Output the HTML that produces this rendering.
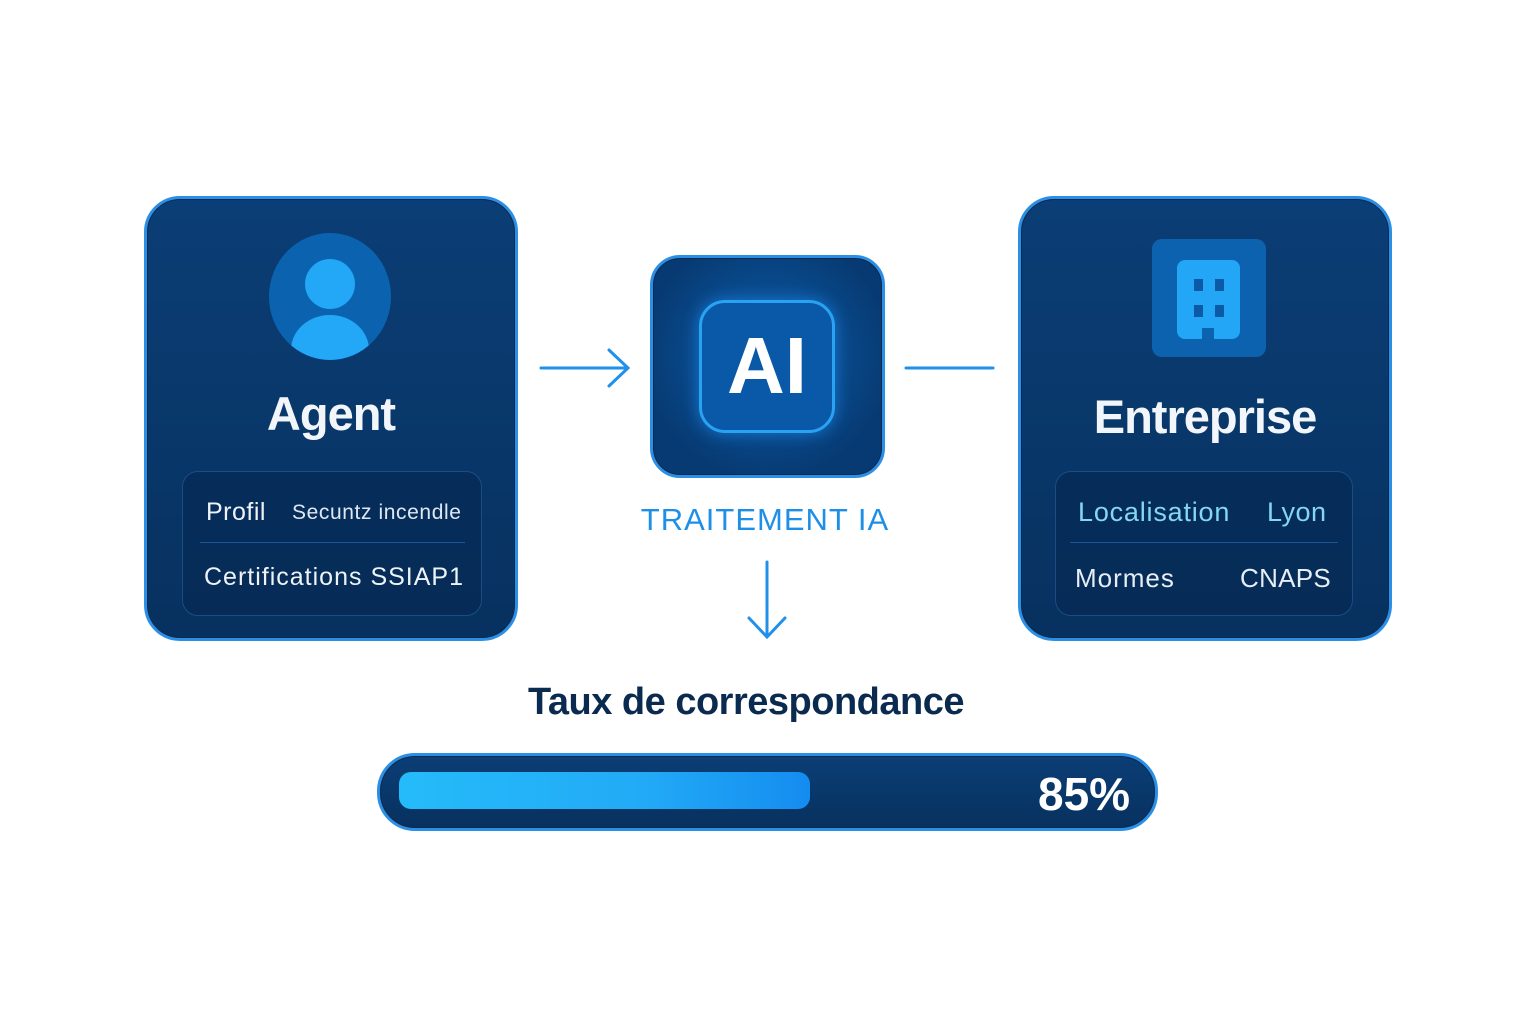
<!DOCTYPE html>
<html><head><meta charset="utf-8"><style>
body{margin:0;width:1536px;height:1024px;background:#fff;position:relative;overflow:hidden;font-family:"Liberation Sans","DejaVu Sans",sans-serif}
.a{position:absolute;box-sizing:border-box}
.card{border:3px solid #2b8fe6;border-radius:36px;background:linear-gradient(180deg,#0b3e76,#07315f);box-shadow:inset 0 0 0 1px #0a2a50}
.inner{border:1.5px solid #1a4d85;border-radius:16px;background:rgba(4,36,76,0.45)}
.t{position:absolute;white-space:nowrap;line-height:1}
</style></head><body>
<div class="a card" style="left:144px;top:196px;width:374px;height:445px"></div>
<div class="a" style="left:269px;top:233px;width:122px;height:127px;border-radius:50%;background:#0b63b0;overflow:hidden">
 <div class="a" style="left:36px;top:26px;width:50px;height:50px;border-radius:50%;background:#22a8f7"></div>
 <div class="a" style="left:22px;top:82px;width:78px;height:70px;border-radius:50% 50% 0 0;background:#22a8f7"></div>
</div>
<div class="t" style="left:144px;width:374px;text-align:center;top:390px;font-size:47px;font-weight:bold;color:#f2f6fb;letter-spacing:-1px">Agent</div>
<div class="a inner" style="left:182px;top:471px;width:300px;height:145px"></div>
<div class="a" style="left:200px;top:542px;width:265px;height:1px;background:#1d5590"></div>
<div class="t" style="left:206px;top:500px;font-size:25px;color:#eef3f8;letter-spacing:0.5px">Profil</div>
<div class="t" style="left:292px;top:502px;font-size:21px;color:#dfe8f2;letter-spacing:0.6px">Secuntz incendle</div>
<div class="t" style="left:204px;top:565px;font-size:25px;color:#eef3f8;letter-spacing:1px">Certifications SSIAP1</div>
<svg class="a" style="left:0;top:0" width="1536" height="1024">
 <g stroke="#2190ea" stroke-width="3" fill="none" stroke-linecap="round">
  <line x1="541" y1="368" x2="627" y2="368"/><polyline points="609,350 628,368 609,386"/>
  <line x1="906" y1="368" x2="993" y2="368"/>
  <line x1="767" y1="562" x2="767" y2="636"/><polyline points="749,618 767,637 785,618"/>
 </g>
</svg>
<div class="a card" style="left:650px;top:255px;width:235px;height:223px;border-radius:30px;background:radial-gradient(circle at 50% 45%,#0c5eae,#073a72 75%)"></div>
<div class="a" style="left:699px;top:300px;width:136px;height:133px;border:3px solid #2aa2f2;border-radius:26px;background:#0a58a8;box-shadow:0 0 16px #1878d0"></div>
<div class="t" style="left:699px;width:136px;text-align:center;top:326px;font-size:80px;font-weight:bold;color:#fff">AI</div>
<div class="t" style="left:620px;width:290px;text-align:center;top:504px;font-size:31px;color:#1e8fe8;letter-spacing:1px">TRAITEMENT IA</div>
<div class="a card" style="left:1018px;top:196px;width:374px;height:445px"></div>
<div class="a" style="left:1152px;top:239px;width:114px;height:118px;border-radius:10px;background:#0d62b0"></div>
<div class="a" style="left:1177px;top:260px;width:63px;height:79px;border-radius:8px;background:#22a6f5"></div>
<div class="a" style="left:1194px;top:279px;width:9px;height:12px;background:#0b5aa5"></div>
<div class="a" style="left:1215px;top:279px;width:9px;height:12px;background:#0b5aa5"></div>
<div class="a" style="left:1194px;top:305px;width:9px;height:12px;background:#0b5aa5"></div>
<div class="a" style="left:1215px;top:305px;width:9px;height:12px;background:#0b5aa5"></div>
<div class="a" style="left:1202px;top:328px;width:12px;height:11px;background:#0d62b0"></div>
<div class="t" style="left:1018px;width:374px;text-align:center;top:393px;font-size:47px;font-weight:bold;color:#f2f6fb;letter-spacing:-1px">Entreprise</div>
<div class="a inner" style="left:1055px;top:471px;width:298px;height:145px"></div>
<div class="a" style="left:1070px;top:542px;width:268px;height:1px;background:#1d5590"></div>
<div class="t" style="left:1078px;top:499px;font-size:27px;color:#84d6f7;letter-spacing:0.8px">Localisation</div>
<div class="t" style="left:1267px;top:499px;font-size:27px;color:#84d6f7;letter-spacing:0.5px">Lyon</div>
<div class="t" style="left:1075px;top:565px;font-size:26px;color:#e6eef6;letter-spacing:1px">Mormes</div>
<div class="t" style="left:1240px;top:565px;font-size:26px;color:#e6eef6;letter-spacing:0.3px">CNAPS</div>
<div class="t" style="left:446px;width:600px;text-align:center;top:683px;font-size:38px;font-weight:bold;color:#0b2a4f;letter-spacing:-0.5px">Taux de correspondance</div>
<div class="a card" style="left:377px;top:753px;width:781px;height:78px;border-radius:38px"></div>
<div class="a" style="left:399px;top:772px;width:411px;height:37px;border-radius:12px;background:linear-gradient(90deg,#25bbf9,#22aaf6 60%,#148cf0)"></div>
<div class="t" style="left:1038px;top:771px;font-size:46px;font-weight:bold;color:#fff">85%</div>
</body></html>
